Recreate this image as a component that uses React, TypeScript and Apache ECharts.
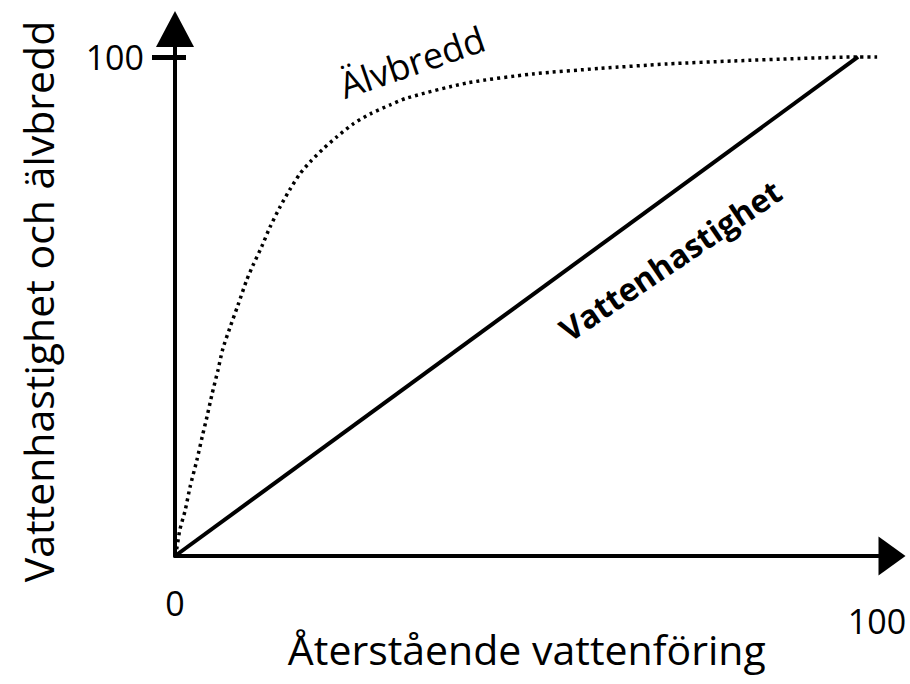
import React, { useEffect, useRef } from "react";
import * as echarts from "echarts";

const FONT = "'Open Sans', sans-serif";

const xTickValues = [0, 100];
const yTickValues = [100];

const xAxisTitle = "Återstående vattenföring";
const yAxisTitle = "Vattenhastighet och älvbredd";

const velocityName = "Vattenhastighet";
const velocityX = [0, 100];
const velocityY = [0, 100];

const widthName = "Älvbredd";
const widthX = [0, 0.3, 0.7, 1.5, 2.2, 3.2, 4.0, 4.7, 5.4, 6.3, 7.0, 8.0, 9.2, 10.5, 11.4, 12.7, 13.9, 15.4, 16.8, 18.3, 19.8, 21.7, 23.7, 26.1, 28.6, 31.5, 34.0, 42.8, 52.4, 62.2, 72.0, 81.7, 91.5, 100, 102.8];
const widthY = [0, 1.8, 5.2, 9.2, 13.8, 19.2, 24.0, 28.0, 32.3, 37.3, 41.5, 45.6, 50.2, 55.3, 58.2, 62.0, 65.9, 70.0, 73.4, 76.6, 79.0, 81.6, 84.0, 86.6, 88.6, 90.4, 91.8, 94.8, 96.6, 97.7, 98.6, 99.2, 99.7, 100, 100];

export default function App() {
  const ref = useRef<HTMLDivElement>(null);

  useEffect(() => {
    if (!ref.current) return;
    const chart = echarts.init(ref.current, null, { renderer: "svg" });

    const labelStyle = { fontFamily: FONT, fontSize: 34, color: "#000" };

    chart.setOption({
      animation: false,
      backgroundColor: "#fff",
      grid: { left: 175, right: 31.5, top: 47, bottom: 128, containLabel: false },
      xAxis: {
        type: "value",
        min: 0,
        max: 103,
        name: xAxisTitle,
        nameLocation: "middle",
        nameGap: 72,
        nameMoveOverlap: false,
        nameTextStyle: { fontFamily: FONT, fontSize: 41, color: "#000" },
        splitLine: { show: false },
        axisLine: {
          show: true,
          lineStyle: { color: "#000", width: 4 },
          symbol: ["none", "triangle"],
          symbolSize: [39, 27],
          symbolOffset: [0, 13.5],
        },
        axisTick: { show: false },
        axisLabel: {
          customValues: xTickValues,
          margin: 30,
          formatter: (v: number) => (v === 100 ? "{b|" + v + "}" : "{a|" + v + "}"),
          rich: {
            a: { ...labelStyle },
            b: { ...labelStyle, padding: [18, 0, 0, 38] },
          },
        },
      },
      yAxis: [
        {
          type: "value",
          min: 0,
          max: 102,
          name: yAxisTitle,
          nameLocation: "middle",
          nameGap: 117,
          nameRotate: 90,
          nameMoveOverlap: false,
          nameTextStyle: { fontFamily: FONT, fontSize: 41, color: "#000" },
          splitLine: { show: false },
          axisLine: {
            show: true,
            lineStyle: { color: "#000", width: 4 },
            symbol: ["none", "triangle"],
            symbolSize: [38, 36],
            symbolOffset: [0, 18],
          },
          axisTick: {
            show: true,
            customValues: yTickValues,
            length: 23,
            lineStyle: { color: "#000", width: 5 },
          },
          axisLabel: {
            customValues: yTickValues,
            margin: 31,
            ...labelStyle,
          },
        },
        {
          type: "value",
          min: 0,
          max: 102,
          position: "left",
          splitLine: { show: false },
          axisLine: { show: false },
          axisTick: {
            show: true,
            inside: true,
            customValues: yTickValues,
            length: 11,
            lineStyle: { color: "#000", width: 5 },
          },
          axisLabel: { show: false },
        },
      ],
      series: [
        {
          name: velocityName,
          type: "line",
          data: velocityX.map((x, i) => [x, velocityY[i]]),
          showSymbol: false,
          lineStyle: { color: "#000", width: 4 },
          clip: false,
          z: 3,
        },
        {
          name: widthName,
          type: "line",
          data: widthX.map((x, i) => [x, widthY[i]]),
          showSymbol: false,
          smooth: 0.25,
          lineStyle: { color: "#000", width: 3.5, type: [3, 4] },
          clip: false,
          z: 2,
        },
      ],
      graphic: [
        {
          type: "text",
          x: 412,
          y: 62,
          rotation: (19 * Math.PI) / 180,
          style: {
            text: widthName,
            fontFamily: FONT,
            fontSize: 36,
            fill: "#000",
            textAlign: "center",
            textVerticalAlign: "middle",
          },
        },
        {
          type: "text",
          x: 670,
          y: 260,
          rotation: (34 * Math.PI) / 180,
          style: {
            text: velocityName,
            fontFamily: FONT,
            fontSize: 32,
            fontWeight: "bold",
            fill: "#000",
            textAlign: "center",
            textVerticalAlign: "middle",
          },
        },
      ],
    });

    return () => chart.dispose();
  }, []);

  return (
    <div
      ref={ref}
      style={{ position: "fixed", left: 0, top: 0, width: 910, height: 684 }}
    />
  );
}
